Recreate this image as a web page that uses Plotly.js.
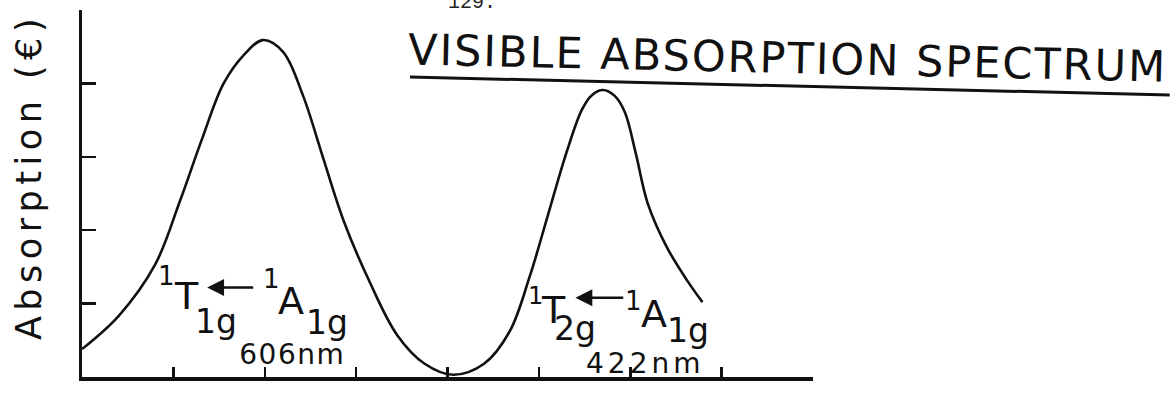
<!DOCTYPE html>
<html>
<head>
<meta charset="utf-8">
<script src="https://cdn.plot.ly/plotly-3.0.1.min.js"></script>
<style>
  html, body { margin: 0; padding: 0; background: #ffffff; }
  #chart { width: 1173px; height: 405px; }
</style>
<style id="spacing"></style>
</head>
<body>
<div id="chart"></div>
<script>
// Spectrum trace (arbitrary wavelength units along x, absorption along y)
const specX = [0.00, 0.40, 0.80, 1.07, 1.31, 1.55, 1.78, 1.98, 2.20, 2.42, 2.63, 2.86, 3.15, 3.45, 3.75, 4.06, 4.40, 4.68, 4.90, 5.10, 5.30, 5.47, 5.58, 5.70, 5.83, 5.94, 6.06, 6.19, 6.40, 6.62, 6.79];
const specY = [0.38, 0.83, 1.53, 2.39, 3.23, 4.00, 4.40, 4.59, 4.43, 3.83, 3.02, 2.14, 1.29, 0.57, 0.18, 0.03, 0.18, 0.62, 1.37, 2.21, 3.05, 3.64, 3.84, 3.91, 3.83, 3.61, 3.05, 2.37, 1.77, 1.32, 1.02];

const xTicks = [0, 1, 2, 3, 4, 5, 6, 7, 8];
const yTicks = [0, 1, 2, 3, 4, 5];

const chartTitle = "VISIBLE ABSORPTION SPECTRUM";
const yTitle = "Absorption (€)";
const pageNumber = "129.";

// Band label pieces: [text, x, y, size, letterSpacing]
const bandLabels = [
  ["1", 0.92, 1.37, 26, 0],
  ["T", 1.14, 1.10, 38, 0],
  ["1g", 1.47, 0.76, 33, 0],
  ["1", 2.07, 1.33, 26, 0],
  ["A", 2.29, 1.04, 38, 0],
  ["1g", 2.68, 0.74, 33, 0],
  ["606nm", 2.30, 0.31, 28, 1.5],
  ["1", 4.96, 1.11, 24, 0],
  ["T", 5.16, 0.91, 38, 0],
  ["2g", 5.40, 0.66, 33, 0],
  ["1", 6.04, 1.03, 26, 0],
  ["A", 6.26, 0.86, 38, 0],
  ["1g", 6.63, 0.64, 33, 0],
  ["422nm", 6.16, 0.18, 28, 4]
];
// Arrows: [headX, tailX, y]
const bandArrows = [
  [1.37, 1.89, 1.22],
  [5.40, 5.94, 1.08]
];

const FONT = "DejaVu Sans, Arial, sans-serif";

const annotations = [];
const spacingRules = [];
function addSpacing(px) {
  if (px > 0) {
    spacingRules.push('g.annotation[data-index="' + annotations.length + '"] text { letter-spacing: ' + px + 'px; }');
  }
}
bandLabels.forEach(function (b) {
  addSpacing(b[4]);
  annotations.push({
    text: b[0], x: b[1], y: b[2], xref: "x", yref: "y",
    showarrow: false, xanchor: "center", yanchor: "middle",
    font: { family: FONT, size: b[3], color: "#111" }
  });
});
bandArrows.forEach(function (a) {
  annotations.push({
    text: "", x: a[0], y: a[2], ax: a[1], ay: a[2],
    xref: "x", yref: "y", axref: "x", ayref: "y",
    showarrow: true, arrowhead: 2, arrowsize: 1.3, arrowwidth: 2.6,
    arrowcolor: "#111", standoff: 0, startstandoff: 0
  });
});
addSpacing(2);
annotations.push({
  text: chartTitle, xref: "paper", yref: "paper", x: 0.9645, y: 0.870,
  xanchor: "center", yanchor: "middle", showarrow: false, textangle: 1.3,
  font: { family: FONT, size: 43, color: "#111" }
});
addSpacing(5.5);
annotations.push({
  text: yTitle, xref: "paper", yref: "paper", x: -0.073, y: 0.545,
  xanchor: "center", yanchor: "middle", showarrow: false, textangle: -90,
  font: { family: FONT, size: 35, color: "#111" }
});
annotations.push({
  text: pageNumber, xref: "paper", yref: "paper", x: 0.533, y: 0.984,
  xanchor: "center", yanchor: "bottom", showarrow: false,
  font: { family: "Liberation Mono, monospace", size: 20, color: "#222" }
});
document.getElementById("spacing").textContent = spacingRules.join("\n");

const trace = {
  x: specX, y: specY, type: "scatter", mode: "lines",
  line: { color: "#111", width: 2.6, shape: "spline", smoothing: 1.0 },
  cliponaxis: false, hoverinfo: "skip", showlegend: false
};

const layout = {
  width: 1173, height: 405,
  margin: { l: 82, r: 360, t: 10, b: 28 },
  paper_bgcolor: "#ffffff", plot_bgcolor: "#ffffff",
  showlegend: false,
  xaxis: {
    range: [0, 8], tickvals: xTicks, showticklabels: false,
    ticks: "inside", ticklen: 10, tickwidth: 2.5, tickcolor: "#111",
    showline: true, linewidth: 3.5, linecolor: "#111",
    showgrid: false, zeroline: false, fixedrange: true
  },
  yaxis: {
    range: [0, 5], tickvals: yTicks, showticklabels: false,
    ticks: "inside", ticklen: 14, tickwidth: 2.5, tickcolor: "#111",
    showline: true, linewidth: 3.5, linecolor: "#111",
    showgrid: false, zeroline: false, fixedrange: true
  },
  annotations: annotations,
  shapes: [{
    type: "line", xref: "paper", yref: "paper",
    x0: 0.4487, y0: 0.8174, x1: 1.488, y1: 0.7684,
    line: { color: "#111", width: 3 }
  }]
};

Plotly.newPlot("chart", [trace], layout, { staticPlot: true, displayModeBar: false });
</script>
</body>
</html>
